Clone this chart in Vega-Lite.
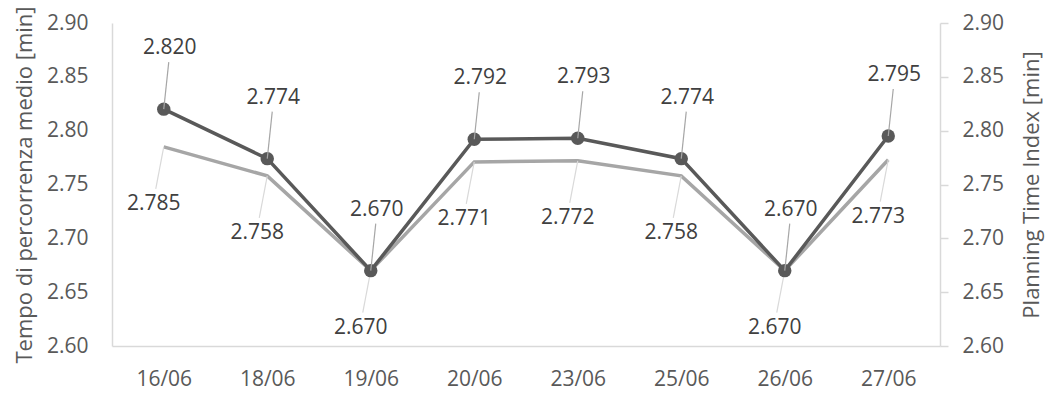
{
  "$schema": "https://vega.github.io/schema/vega-lite/v6.json",
  "width": 828,
  "height": 323,
  "autosize": {"type": "none"},
  "padding": {"left": 112, "top": 23, "right": 105, "bottom": 50},
  "background": "white",
  "config": {
    "view": {"stroke": null},
    "font": "Open Sans",
    "axis": {
      "grid": false,
      "domainColor": "#D9D9D9",
      "domainWidth": 1.5,
      "labelColor": "#595959",
      "titleColor": "#595959",
      "labelFont": "Open Sans",
      "titleFont": "Open Sans",
      "labelFontSize": 21,
      "titleFontSize": 22,
      "titleFontWeight": "normal"
    }
  },
  "data": {
    "values": [
      {"giorno": "16/06", "medio": 2.785, "pti": 2.820},
      {"giorno": "18/06", "medio": 2.758, "pti": 2.774},
      {"giorno": "19/06", "medio": 2.670, "pti": 2.670},
      {"giorno": "20/06", "medio": 2.771, "pti": 2.792},
      {"giorno": "23/06", "medio": 2.772, "pti": 2.793},
      {"giorno": "25/06", "medio": 2.758, "pti": 2.774},
      {"giorno": "26/06", "medio": 2.670, "pti": 2.670},
      {"giorno": "27/06", "medio": 2.773, "pti": 2.795}
    ]
  },
  "encoding": {
    "x": {
      "field": "giorno",
      "type": "ordinal",
      "sort": null,
      "scale": {"type": "point", "padding": 0.5},
      "axis": {"title": null, "ticks": false, "labelAngle": 0, "labelPadding": 22}
    }
  },
  "layer": [
    {
      "encoding": {
        "y": {
          "field": "medio",
          "type": "quantitative",
          "scale": {"domain": [2.6, 2.9], "zero": false, "nice": false},
          "axis": {
            "orient": "left",
            "title": "Tempo di percorrenza medio [min]",
            "ticks": false,
            "values": [2.6, 2.65, 2.7, 2.75, 2.8, 2.85, 2.9],
            "format": ".2f",
            "labelPadding": 24,
            "titlePadding": 10
          }
        }
      },
      "layer": [
        {"mark": {"type": "line", "color": "#A6A6A6", "strokeWidth": 3.5}},
        {
          "mark": {"type": "rule", "color": "#D9D9D9", "strokeWidth": 1.2, "x2Offset": -8, "y2Offset": 42},
          "encoding": {"x2": {"field": "giorno"}, "y2": {"field": "medio"}}
        },
        {
          "mark": {"type": "text", "dx": -10, "dy": 57, "fontSize": 21, "color": "#404040", "font": "Open Sans"},
          "encoding": {"text": {"field": "medio", "type": "quantitative", "format": ".3f"}}
        }
      ]
    },
    {
      "encoding": {
        "y": {
          "field": "pti",
          "type": "quantitative",
          "scale": {"domain": [2.6, 2.9], "zero": false, "nice": false},
          "axis": {
            "orient": "right",
            "title": "Planning Time Index [min]",
            "titleAngle": 270,
            "titleBaseline": "top",
            "ticks": true,
            "tickSize": 8,
            "tickColor": "#D9D9D9",
            "tickWidth": 1.5,
            "values": [2.6, 2.65, 2.7, 2.75, 2.8, 2.85, 2.9],
            "format": ".2f",
            "labelPadding": 14,
            "titlePadding": 18
          }
        }
      },
      "layer": [
        {"mark": {"type": "line", "color": "#595959", "strokeWidth": 3.5}},
        {"mark": {"type": "point", "filled": true, "color": "#595959", "size": 180, "opacity": 1}},
        {
          "mark": {"type": "rule", "color": "#A6A6A6", "strokeWidth": 1.2, "x2Offset": 5, "y2Offset": -47},
          "encoding": {"x2": {"field": "giorno"}, "y2": {"field": "pti"}}
        },
        {
          "mark": {"type": "text", "dx": 6, "dy": -61, "fontSize": 21, "color": "#404040", "font": "Open Sans"},
          "encoding": {"text": {"field": "pti", "type": "quantitative", "format": ".3f"}}
        }
      ]
    }
  ],
  "resolve": {"scale": {"y": "independent"}}
}
